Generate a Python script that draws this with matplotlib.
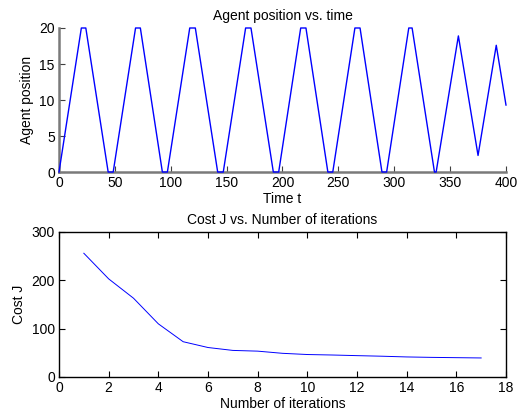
import matplotlib
matplotlib.use('Agg')
import matplotlib.pyplot as plt

# vertices of the agent trajectory
time_pts = [0, 20, 24, 44, 48.5, 68.5, 72.8, 92.5, 97, 117, 122, 142, 147,
            167, 171.8, 191.8, 196.6, 216.3, 221, 240.6, 245, 264.8, 269.4,
            289, 293.2, 313, 316, 336, 337.5, 357.4, 375, 391.3, 400]
pos_pts = [0, 20, 20, 0, 0, 20, 20, 0, 0, 20, 20, 0, 0,
           20, 20, 0, 0, 20, 20, 0, 0, 20, 20,
           0, 0, 20, 20, 0, 0, 18.9, 2.3, 17.6, 9.3]

iterations = list(range(1, 18))
cost = [256, 203, 163, 110, 73, 61, 55, 53.5, 49, 46.5, 45.5, 44.2,
        43, 41.5, 40.6, 40, 39.4]

plt.rcParams['font.family'] = ['Liberation Sans', 'DejaVu Sans']
plt.rcParams['font.size'] = 10

fig = plt.figure(figsize=(5.18, 4.16), dpi=100)

# top panel: agent position
ax1 = fig.add_axes([0.1139, 0.5865, 0.8629, 0.3462])
ax1.plot(time_pts, pos_pts, color='#0000ff', lw=1.0, clip_on=False, zorder=3)
ax1.set_xlim(0, 400)
ax1.set_ylim(0, 20)
ax1.set_xticks(range(0, 401, 50))
ax1.set_yticks(range(0, 21, 5))
for s in ['top', 'right']:
  ax1.spines[s].set_visible(False)
for s in ['left', 'bottom']:
  ax1.spines[s].set_color('#7a7a7a')
  ax1.spines[s].set_linewidth(1.8)
  ax1.spines[s].set_zorder(2)
ax1.tick_params(direction='in', length=4, color='#404040', pad=3)
ax1.set_title('Agent position vs. time', fontsize=10, pad=6)
ax1.set_xlabel('Time t', labelpad=1)
ax1.set_ylabel('Agent position', labelpad=4)

# bottom panel: cost
ax2 = fig.add_axes([0.1139, 0.09375, 0.8629, 0.3486])
ax2.plot(iterations, cost, color='#0000ff', lw=0.7)
ax2.set_xlim(0, 18)
ax2.set_ylim(0, 300)
ax2.set_xticks(range(0, 19, 2))
ax2.set_yticks(range(0, 301, 100))
for s in ax2.spines.values():
  s.set_linewidth(1)
ax2.tick_params(direction='in', length=4, top=True, right=True, pad=3)
ax2.set_title('Cost J vs. Number of iterations', fontsize=10, pad=6)
ax2.set_xlabel('Number of iterations', labelpad=1)
ax2.set_ylabel('Cost J', labelpad=4)

fig.savefig('out.png', dpi=100)
